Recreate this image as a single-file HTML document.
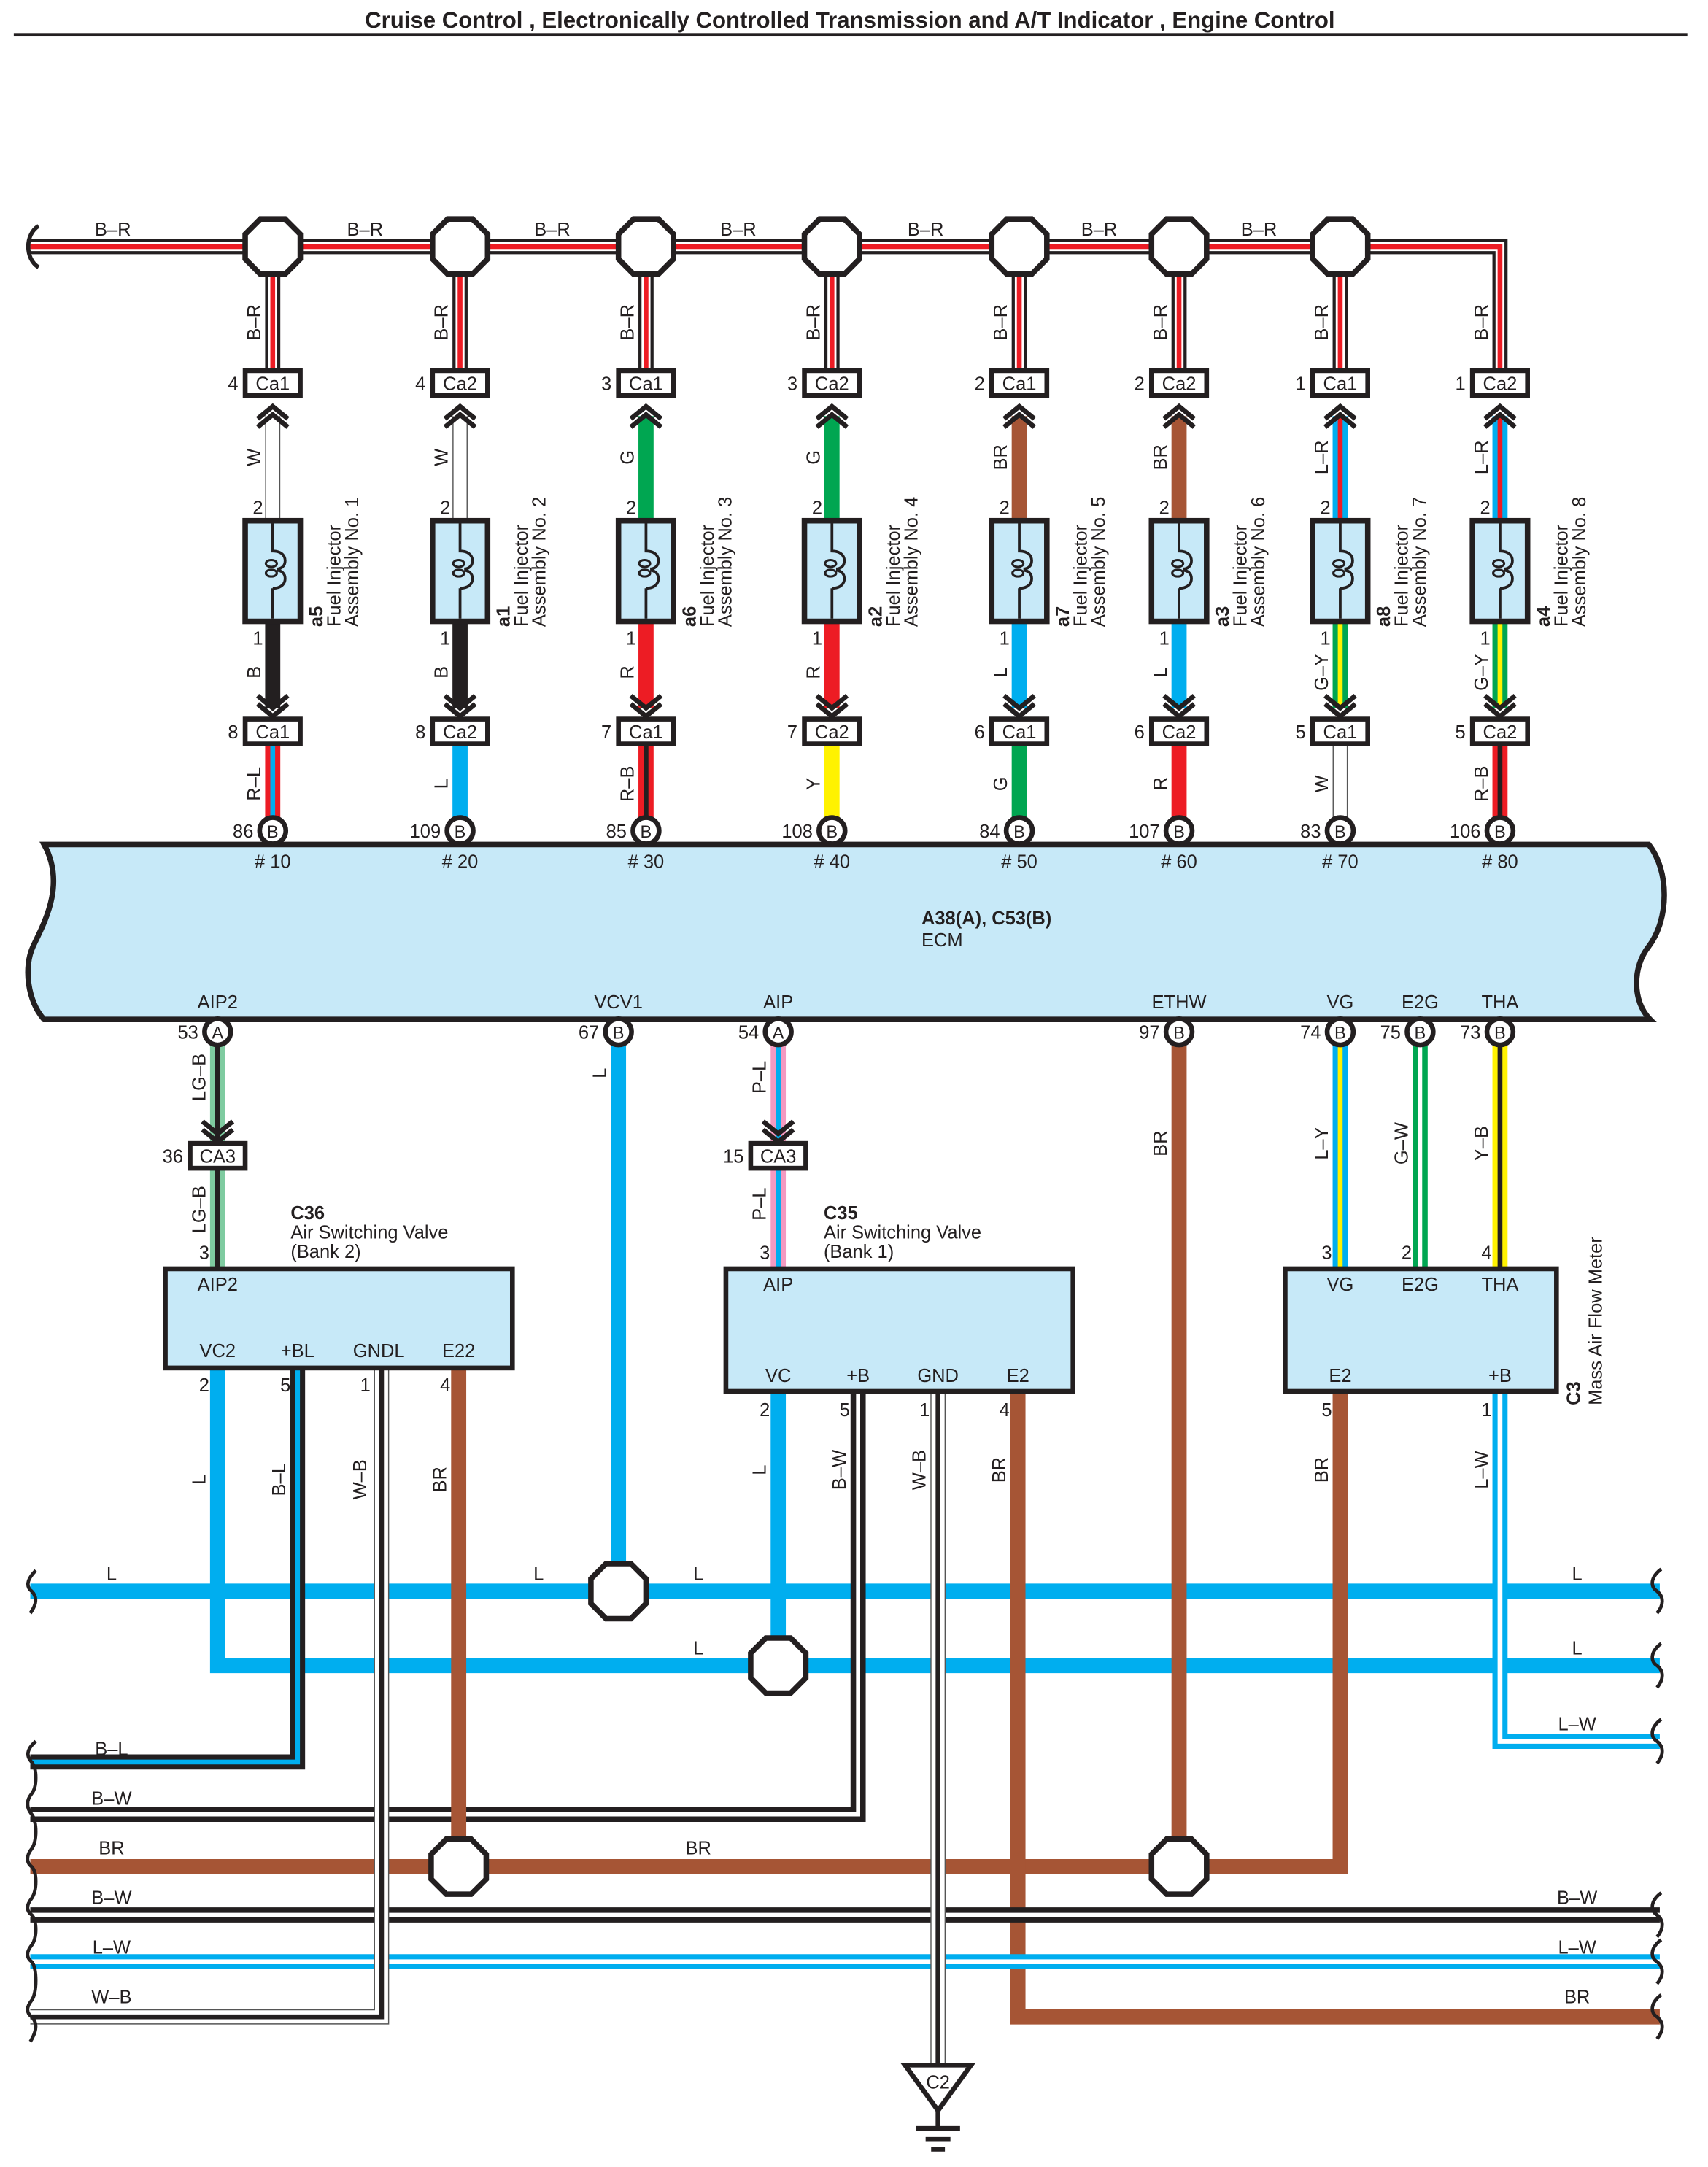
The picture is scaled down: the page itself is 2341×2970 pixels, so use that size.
<!DOCTYPE html>
<html><head><meta charset="utf-8"><style>
html,body{margin:0;padding:0;background:#fff}
svg{display:block}
text{font-family:"Liberation Sans",Arial,sans-serif;fill:#231f20}
.t{font-size:13.5px}
.s{font-size:12.5px}
.b{font-weight:bold}
</style></head><body>
<svg width="2341" height="2970" viewBox="0 0 1240 1573" preserveAspectRatio="none" xmlns="http://www.w3.org/2000/svg">
<defs>
<polygon id="oct" points="-9,-20 9,-20 20,-9 20,9 9,20 -9,20 -20,9 -20,-9" fill="#fff" stroke="#231f20" stroke-width="4"/>
<g id="chu" fill="none" stroke="#231f20" stroke-width="3.5"><polyline points="-11,302 0,293 11,302"/><polyline points="-11,308 0,299 11,308"/></g>
<g id="chd" fill="none" stroke="#231f20" stroke-width="3.5"><polyline points="-11,503 0,512 11,503"/><polyline points="-11,509 0,518 11,509"/></g>
<g id="inj"><rect x="-20" y="376" width="40" height="73" fill="#c7e9f8" stroke="#231f20" stroke-width="4"/>
<path d="M0,378 V398 C7,398 9,402 9,405 C9,409 6,411 3,411 M0,425 C7,425 9,421 9,418 C9,414 6,412 3,412 M0,425 V447" fill="none" stroke="#231f20" stroke-width="2"/>
<ellipse cx="-1" cy="407" rx="4" ry="2.5" fill="none" stroke="#231f20" stroke-width="1.6"/>
<ellipse cx="-1" cy="414" rx="4" ry="2.5" fill="none" stroke="#231f20" stroke-width="1.6"/></g>
<g id="chdl" fill="none" stroke="#231f20" stroke-width="3.5"><polyline points="-11,812 0,821 11,812"/><polyline points="-11,818 0,827 11,818"/></g>
</defs>

<text x="617" y="20" text-anchor="middle" class="b" style="font-size:16.5px">Cruise Control , Electronically Controlled Transmission and A/T Indicator , Engine Control</text>
<rect x="10" y="24" width="1215" height="2.5" fill="#231f20"/>

<g transform="translate(0,2)">
<g fill="none">
<path d="M22,177 H1089 V267" stroke="#231f20" stroke-width="11"/>
<path d="M22,177 H1089 V267" stroke="#fff" stroke-width="6.5"/>
<path d="M22,177 H1089 V267" stroke="#ed1c24" stroke-width="3.5"/>
</g>
<path d="M28,162 C18,168 18,186 28,192" fill="none" stroke="#231f20" stroke-width="3"/>
<g class="t" text-anchor="middle">
<text x="82" y="169">B–R</text><text x="265" y="169">B–R</text><text x="401" y="169">B–R</text><text x="536" y="169">B–R</text><text x="672" y="169">B–R</text><text x="798" y="169">B–R</text><text x="914" y="169">B–R</text>
</g>

<g fill="none">
<path d="M198,177V267M334,177V267M469,177V267M604,177V267M740,177V267M856,177V267M973,177V267" stroke="#231f20" stroke-width="11"/>
<path d="M198,177V267M334,177V267M469,177V267M604,177V267M740,177V267M856,177V267M973,177V267" stroke="#fff" stroke-width="6.5"/>
<path d="M198,177V267M334,177V267M469,177V267M604,177V267M740,177V267M856,177V267M973,177V267" stroke="#ed1c24" stroke-width="3.5"/>
</g>
<use href="#oct" x="198" y="177"/><use href="#oct" x="334" y="177"/><use href="#oct" x="469" y="177"/><use href="#oct" x="604" y="177"/><use href="#oct" x="740" y="177"/><use href="#oct" x="856" y="177"/><use href="#oct" x="973" y="177"/>

<g fill="none">
<path d="M198,300V376M334,300V376" stroke="#555" stroke-width="11"/>
<path d="M198,300V376M334,300V376" stroke="#fff" stroke-width="9.5"/>
<path d="M469,300V376M604,300V376" stroke="#00a651" stroke-width="11"/>
<path d="M740,300V376M856,300V376" stroke="#a65535" stroke-width="11"/>
<path d="M973,300V376M1089,300V376" stroke="#00aeef" stroke-width="11"/>
<path d="M973,300V376M1089,300V376" stroke="#ed1c24" stroke-width="3.5"/>
<path d="M198,449V512M334,449V512" stroke="#231f20" stroke-width="11"/>
<path d="M469,449V512M604,449V512" stroke="#ed1c24" stroke-width="11"/>
<path d="M740,449V512M856,449V512" stroke="#00aeef" stroke-width="11"/>
<path d="M973,449V512M1089,449V512" stroke="#00a651" stroke-width="11"/>
<path d="M973,449V512M1089,449V512" stroke="#fff200" stroke-width="3.5"/>
<path d="M198,538V592" stroke="#ed1c24" stroke-width="11"/><path d="M198,538V592" stroke="#00aeef" stroke-width="3.5"/>
<path d="M334,538V592" stroke="#00aeef" stroke-width="11"/>
<path d="M469,538V592" stroke="#ed1c24" stroke-width="11"/><path d="M469,538V592" stroke="#231f20" stroke-width="3.5"/>
<path d="M604,538V592" stroke="#fff200" stroke-width="11"/>
<path d="M740,538V592" stroke="#00a651" stroke-width="11"/>
<path d="M856,538V592" stroke="#ed1c24" stroke-width="11"/>
<path d="M973,538V592" stroke="#555" stroke-width="11"/><path d="M973,538V592" stroke="#fff" stroke-width="9.5"/>
<path d="M1089,538V592" stroke="#ed1c24" stroke-width="11"/><path d="M1089,538V592" stroke="#231f20" stroke-width="3.5"/>
</g>

<g>
<g transform="translate(198,0)"><use href="#chu"/><use href="#inj"/><use href="#chd"/></g>
<g transform="translate(334,0)"><use href="#chu"/><use href="#inj"/><use href="#chd"/></g>
<g transform="translate(469,0)"><use href="#chu"/><use href="#inj"/><use href="#chd"/></g>
<g transform="translate(604,0)"><use href="#chu"/><use href="#inj"/><use href="#chd"/></g>
<g transform="translate(740,0)"><use href="#chu"/><use href="#inj"/><use href="#chd"/></g>
<g transform="translate(856,0)"><use href="#chu"/><use href="#inj"/><use href="#chd"/></g>
<g transform="translate(973,0)"><use href="#chu"/><use href="#inj"/><use href="#chd"/></g>
<g transform="translate(1089,0)"><use href="#chu"/><use href="#inj"/><use href="#chd"/></g>
</g>
<g fill="#fff" stroke="#231f20" stroke-width="3.5">
<rect x="178" y="267" width="40" height="18"/><rect x="314" y="267" width="40" height="18"/><rect x="449" y="267" width="40" height="18"/><rect x="584" y="267" width="40" height="18"/><rect x="720" y="267" width="40" height="18"/><rect x="836" y="267" width="40" height="18"/><rect x="953" y="267" width="40" height="18"/><rect x="1069" y="267" width="40" height="18"/>
<rect x="178" y="520" width="40" height="18"/><rect x="314" y="520" width="40" height="18"/><rect x="449" y="520" width="40" height="18"/><rect x="584" y="520" width="40" height="18"/><rect x="720" y="520" width="40" height="18"/><rect x="836" y="520" width="40" height="18"/><rect x="953" y="520" width="40" height="18"/><rect x="1069" y="520" width="40" height="18"/>
</g>
<g class="t" text-anchor="middle">
<text x="198" y="281">Ca1</text><text x="334" y="281">Ca2</text><text x="469" y="281">Ca1</text><text x="604" y="281">Ca2</text><text x="740" y="281">Ca1</text><text x="856" y="281">Ca2</text><text x="973" y="281">Ca1</text><text x="1089" y="281">Ca2</text>
<text x="198" y="534">Ca1</text><text x="334" y="534">Ca2</text><text x="469" y="534">Ca1</text><text x="604" y="534">Ca2</text><text x="740" y="534">Ca1</text><text x="856" y="534">Ca2</text><text x="973" y="534">Ca1</text><text x="1089" y="534">Ca2</text>
</g>
<g class="t" text-anchor="end">
<text x="173" y="281">4</text><text x="309" y="281">4</text><text x="444" y="281">3</text><text x="579" y="281">3</text><text x="715" y="281">2</text><text x="831" y="281">2</text><text x="948" y="281">1</text><text x="1064" y="281">1</text>
<text x="173" y="534">8</text><text x="309" y="534">8</text><text x="444" y="534">7</text><text x="579" y="534">7</text><text x="715" y="534">6</text><text x="831" y="534">6</text><text x="948" y="534">5</text><text x="1064" y="534">5</text>
<text x="191" y="371">2</text><text x="327" y="371">2</text><text x="462" y="371">2</text><text x="597" y="371">2</text><text x="733" y="371">2</text><text x="849" y="371">2</text><text x="966" y="371">2</text><text x="1082" y="371">2</text>
<text x="191" y="466">1</text><text x="327" y="466">1</text><text x="462" y="466">1</text><text x="597" y="466">1</text><text x="733" y="466">1</text><text x="849" y="466">1</text><text x="966" y="466">1</text><text x="1082" y="466">1</text>
</g>
<g class="t" text-anchor="middle">
<text transform="translate(189,232) rotate(-90)">B–R</text><text transform="translate(325,232) rotate(-90)">B–R</text><text transform="translate(460,232) rotate(-90)">B–R</text><text transform="translate(595,232) rotate(-90)">B–R</text><text transform="translate(731,232) rotate(-90)">B–R</text><text transform="translate(847,232) rotate(-90)">B–R</text><text transform="translate(964,232) rotate(-90)">B–R</text><text transform="translate(1080,232) rotate(-90)">B–R</text>
<text transform="translate(189,330) rotate(-90)">W</text><text transform="translate(325,330) rotate(-90)">W</text><text transform="translate(460,330) rotate(-90)">G</text><text transform="translate(595,330) rotate(-90)">G</text><text transform="translate(731,330) rotate(-90)">BR</text><text transform="translate(847,330) rotate(-90)">BR</text><text transform="translate(964,330) rotate(-90)">L–R</text><text transform="translate(1080,330) rotate(-90)">L–R</text>
<text transform="translate(189,486) rotate(-90)">B</text><text transform="translate(325,486) rotate(-90)">B</text><text transform="translate(460,486) rotate(-90)">R</text><text transform="translate(595,486) rotate(-90)">R</text><text transform="translate(731,486) rotate(-90)">L</text><text transform="translate(847,486) rotate(-90)">L</text><text transform="translate(964,486) rotate(-90)">G–Y</text><text transform="translate(1080,486) rotate(-90)">G–Y</text>
<text transform="translate(189,567) rotate(-90)">R–L</text><text transform="translate(325,567) rotate(-90)">L</text><text transform="translate(460,567) rotate(-90)">R–B</text><text transform="translate(595,567) rotate(-90)">Y</text><text transform="translate(731,567) rotate(-90)">G</text><text transform="translate(847,567) rotate(-90)">R</text><text transform="translate(964,567) rotate(-90)">W</text><text transform="translate(1080,567) rotate(-90)">R–B</text>
</g>
<g class="t">
<g transform="translate(234,453) rotate(-90)"><text class="b">a5</text><text y="13">Fuel Injector</text><text y="26">Assembly No. 1</text></g>
<g transform="translate(370,453) rotate(-90)"><text class="b">a1</text><text y="13">Fuel Injector</text><text y="26">Assembly No. 2</text></g>
<g transform="translate(505,453) rotate(-90)"><text class="b">a6</text><text y="13">Fuel Injector</text><text y="26">Assembly No. 3</text></g>
<g transform="translate(640,453) rotate(-90)"><text class="b">a2</text><text y="13">Fuel Injector</text><text y="26">Assembly No. 4</text></g>
<g transform="translate(776,453) rotate(-90)"><text class="b">a7</text><text y="13">Fuel Injector</text><text y="26">Assembly No. 5</text></g>
<g transform="translate(892,453) rotate(-90)"><text class="b">a3</text><text y="13">Fuel Injector</text><text y="26">Assembly No. 6</text></g>
<g transform="translate(1009,453) rotate(-90)"><text class="b">a8</text><text y="13">Fuel Injector</text><text y="26">Assembly No. 7</text></g>
<g transform="translate(1125,453) rotate(-90)"><text class="b">a4</text><text y="13">Fuel Injector</text><text y="26">Assembly No. 8</text></g>
</g>

<path d="M32,611 H1197 C1212,630 1212,665 1197,685 C1185,700 1185,725 1198,738 H32 C20,725 17,700 24,685 C32,668 48,640 32,611 Z" fill="#c7e9f8" stroke="#231f20" stroke-width="4"/>
<g fill="#fff" stroke="#231f20" stroke-width="3.5">
<circle cx="198" cy="601" r="9.5"/><circle cx="334" cy="601" r="9.5"/><circle cx="469" cy="601" r="9.5"/><circle cx="604" cy="601" r="9.5"/><circle cx="740" cy="601" r="9.5"/><circle cx="856" cy="601" r="9.5"/><circle cx="973" cy="601" r="9.5"/><circle cx="1089" cy="601" r="9.5"/>
</g>
<g class="s" text-anchor="middle">
<text x="198" y="606">B</text><text x="334" y="606">B</text><text x="469" y="606">B</text><text x="604" y="606">B</text><text x="740" y="606">B</text><text x="856" y="606">B</text><text x="973" y="606">B</text><text x="1089" y="606">B</text>
</g>
<g class="t" text-anchor="end">
<text x="184" y="606">86</text><text x="320" y="606">109</text><text x="455" y="606">85</text><text x="590" y="606">108</text><text x="726" y="606">84</text><text x="842" y="606">107</text><text x="959" y="606">83</text><text x="1075" y="606">106</text>
</g>
<g class="t" text-anchor="middle">
<text x="198" y="628"># 10</text><text x="334" y="628"># 20</text><text x="469" y="628"># 30</text><text x="604" y="628"># 40</text><text x="740" y="628"># 50</text><text x="856" y="628"># 60</text><text x="973" y="628"># 70</text><text x="1089" y="628"># 80</text>
<text x="158" y="730">AIP2</text><text x="449" y="730">VCV1</text><text x="565" y="730">AIP</text><text x="856" y="730">ETHW</text><text x="973" y="730">VG</text><text x="1031" y="730">E2G</text><text x="1089" y="730">THA</text>
</g>
<text x="669" y="669" class="t b">A38(A), C53(B)</text>
<text x="669" y="685" class="t">ECM</text>

<g fill="none">
<path d="M22,1153 H1205" stroke="#00aeef" stroke-width="11"/>
<path d="M158,991 V1207 H1205" stroke="#00aeef" stroke-width="11"/>
<path d="M449,757 V1153" stroke="#00aeef" stroke-width="11"/>
<path d="M565,1008 V1207" stroke="#00aeef" stroke-width="11"/>
<path d="M1089,1008 V1262 H1205" stroke="#00aeef" stroke-width="11"/>
<path d="M1089,1008 V1262 H1205" stroke="#fff" stroke-width="3.5"/>
<path d="M216,991 V1277 H22" stroke="#231f20" stroke-width="11"/>
<path d="M216,991 V1277 H22" stroke="#00aeef" stroke-width="3.5"/>
<path d="M623,1008 V1315 H22" stroke="#231f20" stroke-width="11"/>
<path d="M623,1008 V1315 H22" stroke="#fff" stroke-width="3"/>
<path d="M22,1353 H973 V1008" stroke="#a65535" stroke-width="11"/>
<path d="M333,991 V1353" stroke="#a65535" stroke-width="11"/>
<path d="M856,757 V1353" stroke="#a65535" stroke-width="11"/>
<path d="M739,1008 V1462 H1205" stroke="#a65535" stroke-width="11"/>
<path d="M22,1388 H1205" stroke="#231f20" stroke-width="11"/>
<path d="M22,1388 H1205" stroke="#fff" stroke-width="3"/>
<path d="M22,1422 H1205" stroke="#00aeef" stroke-width="11"/>
<path d="M22,1422 H1205" stroke="#fff" stroke-width="3.5"/>
<path d="M277,991 V1462 H22" stroke="#555" stroke-width="11"/>
<path d="M277,991 V1462 H22" stroke="#fff" stroke-width="9.5"/>
<path d="M277,991 V1462 H22" stroke="#231f20" stroke-width="3.5"/>
<path d="M681,1008 V1497" stroke="#555" stroke-width="11"/>
<path d="M681,1008 V1497" stroke="#fff" stroke-width="9.5"/>
<path d="M681,1008 V1497" stroke="#231f20" stroke-width="3.5"/>
<path d="M158,757 V919" stroke="#7fcba0" stroke-width="11"/>
<path d="M158,757 V919" stroke="#231f20" stroke-width="3.5"/>
<path d="M565,757 V919" stroke="#f49ac1" stroke-width="11"/>
<path d="M565,757 V919" stroke="#00aeef" stroke-width="3.5"/>
<path d="M973,757 V919" stroke="#00aeef" stroke-width="11"/><path d="M973,757 V919" stroke="#fff200" stroke-width="3.5"/>
<path d="M1031,757 V919" stroke="#00a651" stroke-width="11"/><path d="M1031,757 V919" stroke="#fff" stroke-width="3"/>
<path d="M1089,757 V919" stroke="#fff200" stroke-width="11"/><path d="M1089,757 V919" stroke="#231f20" stroke-width="3.5"/>
</g>
<use href="#oct" x="449" y="1153"/><use href="#oct" x="565" y="1207"/><use href="#oct" x="333" y="1353"/><use href="#oct" x="856" y="1353"/>

<g fill="#fff" stroke="#231f20" stroke-width="3.5">
<circle cx="158" cy="747" r="9.5"/><circle cx="449" cy="747" r="9.5"/><circle cx="565" cy="747" r="9.5"/><circle cx="856" cy="747" r="9.5"/><circle cx="973" cy="747" r="9.5"/><circle cx="1031" cy="747" r="9.5"/><circle cx="1089" cy="747" r="9.5"/>
</g>
<g class="s" text-anchor="middle">
<text x="158" y="752">A</text><text x="449" y="752">B</text><text x="565" y="752">A</text><text x="856" y="752">B</text><text x="973" y="752">B</text><text x="1031" y="752">B</text><text x="1089" y="752">B</text>
</g>
<g class="t" text-anchor="end">
<text x="144" y="752">53</text><text x="435" y="752">67</text><text x="551" y="752">54</text><text x="842" y="752">97</text><text x="959" y="752">74</text><text x="1017" y="752">75</text><text x="1075" y="752">73</text>
</g>

<g transform="translate(158,0)"><use href="#chdl"/></g>
<g transform="translate(565,0)"><use href="#chdl"/></g>
<rect x="138" y="828" width="40" height="18" fill="#fff" stroke="#231f20" stroke-width="3.5"/>
<rect x="545" y="828" width="40" height="18" fill="#fff" stroke="#231f20" stroke-width="3.5"/>
<g class="t"><text x="158" y="842" text-anchor="middle">CA3</text><text x="565" y="842" text-anchor="middle">CA3</text>
<text x="133" y="842" text-anchor="end">36</text><text x="540" y="842" text-anchor="end">15</text></g>

<rect x="120" y="919" width="252" height="72" fill="#c7e9f8" stroke="#231f20" stroke-width="3.5"/>
<rect x="527" y="919" width="252" height="89" fill="#c7e9f8" stroke="#231f20" stroke-width="3.5"/>
<rect x="933" y="919" width="197" height="89" fill="#c7e9f8" stroke="#231f20" stroke-width="3.5"/>
<g class="t">
<text x="211" y="883" class="b">C36</text><text x="211" y="897">Air Switching Valve</text><text x="211" y="911">(Bank 2)</text>
<text x="598" y="883" class="b">C35</text><text x="598" y="897">Air Switching Valve</text><text x="598" y="911">(Bank 1)</text>
<g transform="translate(1147,1018) rotate(-90)"><text class="b">C3</text><text y="16">Mass Air Flow Meter</text></g>
</g>
<g class="t" text-anchor="middle">
<text x="158" y="935">AIP2</text><text x="158" y="983">VC2</text><text x="216" y="983">+BL</text><text x="275" y="983">GNDL</text><text x="333" y="983">E22</text>
<text x="565" y="935">AIP</text><text x="565" y="1001">VC</text><text x="623" y="1001">+B</text><text x="681" y="1001">GND</text><text x="739" y="1001">E2</text>
<text x="973" y="935">VG</text><text x="1031" y="935">E2G</text><text x="1089" y="935">THA</text><text x="973" y="1001">E2</text><text x="1089" y="1001">+B</text>
</g>
<g class="t" text-anchor="end">
<text x="152" y="912">3</text><text x="559" y="912">3</text><text x="967" y="912">3</text><text x="1025" y="912">2</text><text x="1083" y="912">4</text>
<text x="152" y="1008">2</text><text x="211" y="1008">5</text><text x="269" y="1008">1</text><text x="327" y="1008">4</text>
<text x="559" y="1026">2</text><text x="617" y="1026">5</text><text x="675" y="1026">1</text><text x="733" y="1026">4</text>
<text x="967" y="1026">5</text><text x="1083" y="1026">1</text>
</g>
<g class="t" text-anchor="middle">
<text transform="translate(149,780) rotate(-90)">LG–B</text><text transform="translate(149,876) rotate(-90)">LG–B</text>
<text transform="translate(440,777) rotate(-90)">L</text>
<text transform="translate(556,780) rotate(-90)">P–L</text><text transform="translate(556,872) rotate(-90)">P–L</text>
<text transform="translate(847,828) rotate(-90)">BR</text>
<text transform="translate(964,828) rotate(-90)">L–Y</text><text transform="translate(1022,828) rotate(-90)">G–W</text><text transform="translate(1080,828) rotate(-90)">Y–B</text>
<text transform="translate(149,1072) rotate(-90)">L</text><text transform="translate(207,1072) rotate(-90)">B–L</text><text transform="translate(266,1072) rotate(-90)">W–B</text><text transform="translate(324,1072) rotate(-90)">BR</text>
<text transform="translate(556,1065) rotate(-90)">L</text><text transform="translate(614,1065) rotate(-90)">B–W</text><text transform="translate(672,1065) rotate(-90)">W–B</text><text transform="translate(730,1065) rotate(-90)">BR</text>
<text transform="translate(964,1065) rotate(-90)">BR</text><text transform="translate(1080,1065) rotate(-90)">L–W</text>
</g>
<g class="t" text-anchor="middle">
<text x="81" y="1145">L</text><text x="391" y="1145">L</text><text x="507" y="1145">L</text><text x="1145" y="1145">L</text>
<text x="507" y="1199">L</text><text x="1145" y="1199">L</text><text x="1145" y="1254">L–W</text>
<text x="81" y="1272">B–L</text><text x="81" y="1308">B–W</text><text x="81" y="1344">BR</text><text x="507" y="1344">BR</text>
<text x="81" y="1380">B–W</text><text x="1145" y="1380">B–W</text><text x="81" y="1416">L–W</text><text x="1145" y="1416">L–W</text>
<text x="81" y="1452">W–B</text><text x="1145" y="1452">BR</text>
</g>
<g fill="none" stroke="#231f20" stroke-width="2.5">
<path d="M26,1138 C19,1145 19,1150 23,1153 C27,1157 27,1162 22,1169"/>
<path d="M26,1262 C19,1268 19,1273 23,1277 C27,1282 27,1295 23,1300 C19,1305 19,1310 23,1315 C27,1320 27,1335 23,1340 C19,1345 19,1350 23,1353 C27,1357 27,1370 23,1376 C19,1381 19,1385 23,1388 C27,1392 27,1405 23,1410 C19,1415 19,1419 23,1422 C27,1426 27,1445 23,1450 C19,1455 19,1459 23,1462 C27,1466 27,1472 22,1480"/>
<path d="M1206,1137 C1198,1143 1198,1150 1203,1153 C1208,1157 1208,1163 1203,1169"/>
<path d="M1206,1191 C1198,1197 1198,1204 1203,1207 C1208,1211 1208,1217 1203,1223"/>
<path d="M1206,1246 C1198,1252 1198,1259 1203,1262 C1208,1266 1208,1272 1203,1278"/>
<path d="M1206,1372 C1198,1378 1198,1385 1203,1388 C1208,1392 1208,1398 1203,1404"/>
<path d="M1206,1406 C1198,1412 1198,1419 1203,1422 C1208,1426 1208,1432 1203,1438"/>
<path d="M1206,1446 C1198,1452 1198,1459 1203,1462 C1208,1466 1208,1472 1203,1478"/>
</g>
<polygon points="657,1497 705,1497 681,1530" fill="#fff" stroke="#231f20" stroke-width="3.5"/>
<text x="681" y="1514" text-anchor="middle" class="t">C2</text>
<g stroke="#231f20" stroke-width="3.5"><line x1="681" y1="1530" x2="681" y2="1542"/><line x1="665" y1="1543" x2="697" y2="1543"/><line x1="672" y1="1551" x2="690" y2="1551"/><line x1="676" y1="1558" x2="686" y2="1558"/></g>
</g>
</svg>
</body></html>
